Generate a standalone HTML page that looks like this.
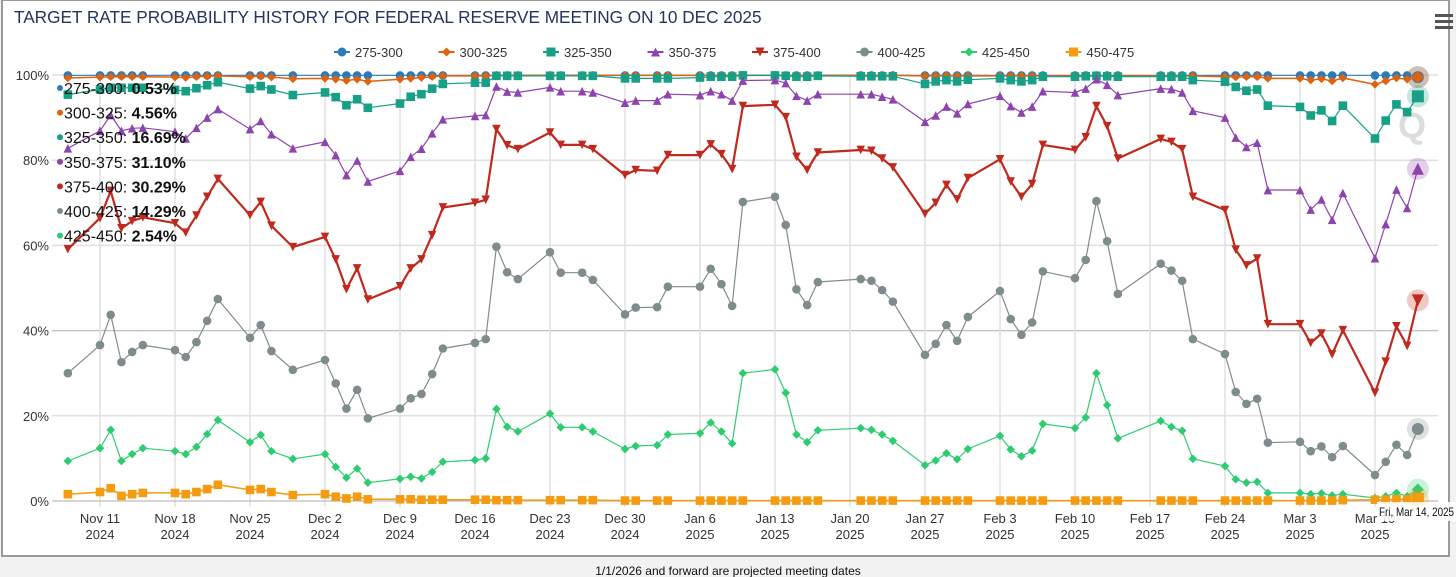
<!DOCTYPE html>
<html><head><meta charset="utf-8"><style>
html,body{margin:0;padding:0;background:#f2f2f2;}
svg{display:block;font-family:"Liberation Sans",sans-serif;}
</style></head><body>
<svg id="chart" width="1456" height="577" viewBox="0 0 1456 577">
<rect x="0" y="0" width="1456" height="577" fill="#f2f2f2"/>
<rect x="2" y="0" width="1447" height="556" fill="#fff" stroke="#9a9a9a" stroke-width="2"/>
<text x="14" y="23" font-size="17.2" fill="#23355e">TARGET RATE PROBABILITY HISTORY FOR FEDERAL RESERVE MEETING ON 10 DEC 2025</text>
<g>
<rect x="1435" y="14" width="18" height="3" fill="#555"/><rect x="1435" y="20" width="18" height="3" fill="#555"/><rect x="1435" y="26" width="18" height="3" fill="#555"/>
</g>
<g id="grid"></g>
<g id="axes"></g>
<g id="legend"></g>
<text x="1398" y="138" font-size="36" font-weight="bold" fill="#ddd">Q</text>
<g id="series"></g>
<g id="overlay"></g>
<g>
<rect x="1377" y="502" width="79" height="19" fill="#fff" fill-opacity="0.85"/>
<text x="1379" y="516" font-size="12" textLength="75" lengthAdjust="spacingAndGlyphs" fill="#111">Fri, Mar 14, 2025</text>
</g>
<text x="728" y="575" font-size="12" fill="#111" text-anchor="middle">1/1/2026 and forward are projected meeting dates</text>
</svg>
<script>
const days=[-3,0,1,2,3,4,7,8,9,10,11,14,15,16,18,21,22,23,24,25,28,29,30,31,32,35,36,37,38,39,42,43,45,46,49,50,52,53,56,57,58,59,60,63,64,65,66,67,71,72,73,74,77,78,79,80,81,84,85,86,87,88,91,92,93,94,95,99,100,101,102,105,106,107,108,109,112,113,114,115,116,119,120,121,122,123];
const seriesNames=["275-300","300-325","325-350","350-375","375-400","400-425","425-450","450-475"];
const s275=[99.9,99.9,99.9,99.9,99.9,99.9,99.9,99.9,99.9,99.9,99.9,99.9,99.9,99.9,99.9,99.9,99.9,99.9,99.9,99.9,99.9,99.9,99.9,99.9,99.9,99.9,99.9,99.9,99.9,99.9,99.9,99.9,99.9,99.9,99.9,99.9,99.9,99.9,99.9,99.9,99.9,99.9,99.9,99.9,99.9,99.9,99.9,99.9,99.9,99.9,99.9,99.9,99.9,99.9,99.9,99.9,99.9,99.9,99.9,99.9,99.9,99.9,99.9,99.9,99.9,99.9,99.9,99.9,99.9,99.9,99.9,99.9,99.9,99.9,99.9,99.9,99.9,99.9,99.9,99.9,99.9,99.9,99.9,99.9,99.9,99.5];
const s300=[99.3,99.5,99.6,99.6,99.6,99.6,99.5,99.4,99.6,99.7,99.8,99.6,99.7,99.5,99.1,99.2,99.0,98.7,99.0,98.5,99.0,99.2,99.4,99.6,99.8,99.8,99.8,99.9,99.9,99.9,99.9,99.9,99.9,99.9,99.9,99.9,99.9,99.9,99.9,99.9,99.9,99.9,99.9,99.9,99.9,99.9,99.9,99.9,99.9,99.9,99.9,99.9,99.8,99.8,99.8,99.8,99.8,99.8,99.8,99.8,99.8,99.8,99.8,99.8,99.8,99.8,99.8,99.8,99.8,99.8,99.8,99.6,99.5,99.6,99.6,99.2,99.2,98.8,99.1,98.6,99.3,97.8,98.6,99.3,99.0,99.5];
const s325=[95.4,96.6,97.0,97.0,97.0,97.0,96.5,96.2,96.9,97.6,98.3,96.8,97.4,96.6,95.3,95.9,94.8,92.9,94.3,92.3,93.3,94.9,95.5,96.8,97.9,98.2,98.2,99.8,99.8,99.8,99.8,99.8,99.8,99.8,99.2,99.2,99.2,99.2,99.4,99.6,99.6,99.6,99.9,99.9,99.8,99.6,99.6,99.8,99.7,99.7,99.7,99.7,97.9,98.5,98.8,98.5,98.9,99.2,98.8,98.5,98.8,99.6,99.6,99.7,99.8,99.7,99.6,99.6,99.6,99.6,98.8,98.4,97.2,96.3,96.6,92.8,92.5,90.5,91.7,89.2,92.8,85.1,89.3,93.1,91.3,95.0];
const s350=[82.8,86.9,90.6,86.9,87.5,87.6,86.7,85.1,87.6,90.0,92.0,87.3,89.2,86.1,82.8,84.3,81.2,76.5,79.9,75.0,77.5,80.8,82.7,86.3,89.6,90.4,90.6,97.3,96.1,95.9,97.1,96.2,96.2,95.9,93.5,94.0,94.0,95.5,95.3,96.2,95.5,94.0,98.7,98.8,98.1,95.1,94.0,95.5,95.5,95.5,94.9,94.3,89.0,90.5,92.6,91.0,93.2,95.1,92.7,91.2,92.6,96.2,95.9,96.8,99.0,97.7,95.3,96.8,96.7,95.9,91.6,90.0,85.3,83.1,84.1,73.0,73.0,68.4,70.8,66.0,72.3,57.0,65.0,73.1,68.8,78.0];
const s375=[59.1,66.4,72.8,64,65.7,66.6,65.2,63,67,71.4,75.6,67.1,70.2,64.6,59.6,62.0,56.7,49.7,54.6,47.3,50.4,54.6,56.7,62.4,68.9,70.0,70.7,87.3,83.5,82.6,86.5,83.6,83.6,82.6,76.5,77.7,77.5,81.2,81.2,83.7,81.4,77.9,92.7,93.0,90.1,80.8,77.7,81.8,82.4,82.2,80.4,78.3,67.4,70.0,74.2,70.8,75.8,80.2,75,71.4,74.4,83.6,82.4,85.4,92.7,88,80.4,85.0,84.3,82.6,71.4,68.3,59.0,55.3,56.9,41.5,41.5,37.1,39.3,34.4,40.1,25.4,32.7,41.0,36.4,47.1];
const s400=[30,36.6,43.7,32.6,35,36.6,35.4,33.8,37.3,42.3,47.4,38.3,41.3,35.2,30.8,33.1,27.6,21.7,26.1,19.4,21.7,24.1,25.1,29.8,35.8,37.1,38.0,59.7,53.7,52.1,58.4,53.6,53.6,51.9,43.8,45.4,45.5,50.3,50.3,54.5,50.9,45.8,70.2,71.4,64.8,49.7,46.0,51.4,52.1,51.7,49.5,46.8,34.3,36.9,41.3,37.6,43.2,49.3,42.7,39.0,41.9,53.9,52.3,56.6,70.4,61.0,48.6,55.7,54.1,51.7,38.0,34.5,25.6,22.8,24.0,13.7,13.9,11.7,12.8,10.3,12.9,6.1,9.2,13.2,10.8,16.9];
const s425=[9.4,12.4,16.7,9.4,11,12.4,11.7,11,12.7,15.7,19,13.8,15.5,11.7,9.9,11,8,5.5,7.6,4.3,5.2,5.7,5.3,6.8,9.2,9.6,10,21.6,17.4,16.3,20.5,17.3,17.3,16.3,12.2,12.9,13.1,15.6,15.9,18.4,16.3,13.5,30,30.9,25.4,15.6,13.8,16.6,17.1,16.7,15.6,14.1,8.4,9.5,11.2,9.8,12.2,15.3,12.1,10.5,11.8,18.1,17.1,19.6,30,22.5,14.7,18.8,17.4,16.5,9.9,8.2,5.1,4.3,4.5,1.9,1.9,1.6,1.8,1.3,1.6,0.7,1.1,1.9,1.1,2.7];
const s450=[1.6,2.1,3.0,1.2,1.6,1.9,1.9,1.6,2.1,2.8,3.8,2.6,2.8,2.1,1.4,1.6,1.0,0.6,1.0,0.4,0.4,0.4,0.3,0.3,0.3,0.3,0.3,0.2,0.2,0.2,0.2,0.2,0.2,0.2,0.1,0.1,0.1,0.1,0.1,0.1,0.1,0.1,0.1,0.1,0.1,0.1,0.1,0.1,0.1,0.1,0.1,0.1,0.1,0.1,0.1,0.1,0.1,0.1,0.1,0.1,0.1,0.1,0.1,0.1,0.1,0.1,0.1,0.1,0.1,0.1,0.1,0.1,0.1,0.1,0.1,0.1,0.1,0.1,0.1,0.1,0.2,0.3,0.3,0.4,0.4,0.5];
const yTicks=[0,20,40,60,80,100];
const xTickDays=[0,7,14,21,28,35,42,49,56,63,70,77,84,91,98,105,112,119];
const xTickLabels=["Nov 11","Nov 18","Nov 25","Dec 2","Dec 9","Dec 16","Dec 23","Dec 30","Jan 6","Jan 13","Jan 20","Jan 27","Feb 3","Feb 10","Feb 17","Feb 24","Mar 3","Mar 10"];
const xTickYears=["2024","2024","2024","2024","2024","2024","2024","2024","2025","2025","2025","2025","2025","2025","2025","2025","2025","2025"];
const overlayNames=["275-300","300-325","325-350","350-375","375-400","400-425","425-450"];
const overlayValues=["0.53%","4.56%","16.69%","31.10%","30.29%","14.29%","2.54%"];

const NS="http://www.w3.org/2000/svg";
const L=52,R=1438,T=75,B=501;
function xs(d){return 100+d*75/7;}
function ys(v){return B-(v/100)*(B-T);}
function mk(tag,attrs,parent){const e=document.createElementNS(NS,tag);for(const k in attrs)e.setAttribute(k,attrs[k]);parent.appendChild(e);return e;}
const grid=document.getElementById('grid'),axes=document.getElementById('axes');
yTicks.forEach((t,i)=>{
  const ln=mk('line',{x1:L,x2:R,y1:ys(t),y2:ys(t),stroke:t===40?'#c4c4c4':'#e0e0e0','stroke-width':1.5},grid);
  
  
  const tx=mk('text',{x:L-3,y:ys(t)+5,'font-size':13,fill:'#333','text-anchor':'end'},axes);
  tx.textContent=t+'%';
  
  
});
xTickDays.forEach((d,i)=>{
  const x=xs(d);
  const ln=mk('line',{x1:x,x2:x,y1:T,y2:B+6,stroke:'#e0e0e0','stroke-width':1.5},grid);
  
  
  const t1=mk('text',{x:x,y:523,'font-size':13,fill:'#333','text-anchor':'middle'},axes);
  t1.textContent=xTickLabels[i];
  
  
  const t2=mk('text',{x:x,y:539,'font-size':13,fill:'#333','text-anchor':'middle'},axes);
  t2.textContent=xTickYears[i];
  
  
});
const ax=mk('line',{x1:L,x2:R,y1:B,y2:B,stroke:'#bbb','stroke-width':1},axes);



const colors=['#2b7bba','#e0620d','#17a085','#8e44ad','#c0291d','#7f8c8d','#2ecc71','#f39c12'];
const symbols=['circle','diamond','square','triangle','triangle-down','circle','diamond','square'];
const widths=[1,1.5,1.2,1.2,2.2,1.2,1.2,1.5];
const allData=[s275,s300,s325,s350,s375,s400,s425,s450];
function marker(g,sym,x,y,r,color){
  let e;
  if(sym==='circle')e=mk('circle',{cx:x,cy:y,r:r,fill:color},g);
  else if(sym==='square')e=mk('rect',{x:x-r,y:y-r,width:2*r,height:2*r,fill:color},g);
  else if(sym==='diamond')e=mk('path',{d:`M${x},${y-r}L${x+r},${y}L${x},${y+r}L${x-r},${y}Z`,fill:color},g);
  else if(sym==='triangle')e=mk('path',{d:`M${x},${y-r}L${x+r},${y+r}L${x-r},${y+r}Z`,fill:color},g);
  else e=mk('path',{d:`M${x-r},${y-r}L${x+r},${y-r}L${x},${y+r}Z`,fill:color},g);
  return e;
}
const sg=document.getElementById('series');
allData.forEach((data,si)=>{
  const g=mk('g',{},sg);
  
  
  const pts=data.map((v,i)=>xs(days[i]).toFixed(1)+','+ys(v).toFixed(1)).join(' ');
  const pl=mk('polyline',{points:pts,fill:'none',stroke:colors[si],'stroke-width':widths[si],'stroke-linejoin':'round'},g);
  
  
  const n=data.length;
  data.forEach((v,i)=>{
    const x=xs(days[i]),y=ys(v);
    if(i===n-1){
      const h=mk('circle',{cx:x,cy:y,r:11,fill:colors[si],'fill-opacity':0.25},g);
      
      
    }
    const m=marker(g,symbols[si],x,y,i===n-1?6:4.3,colors[si]);
    
    
  });
});
const lg=document.getElementById('legend');
seriesNames.forEach((nm,i)=>{
  const cx=342+i*104.5;
  const g=mk('g',{},lg);
  
  
  mk('line',{x1:cx-8,x2:cx+8,y1:52,y2:52,stroke:colors[i],'stroke-width':2},g);
  marker(g,symbols[i],cx,52,4.5,colors[i]);
  const t=mk('text',{x:cx+13,y:57,'font-size':13,fill:'#333'},g);
  t.textContent=nm;
});
const ov=document.getElementById('overlay');
overlayNames.forEach((nm,i)=>{
  const y=88+i*24.6;
  const g=mk('g',{},ov);
  
  
  mk('circle',{cx:60,cy:y,r:3,fill:colors[i]},g);
  const t=mk('text',{x:64,y:y+6,'font-size':16,fill:'#111'},g);
  const a=document.createElementNS(NS,'tspan');a.textContent=nm+': ';t.appendChild(a);
  const b=document.createElementNS(NS,'tspan');b.setAttribute('font-weight','bold');b.textContent=overlayValues[i];t.appendChild(b);
});
</script>
</body></html>
